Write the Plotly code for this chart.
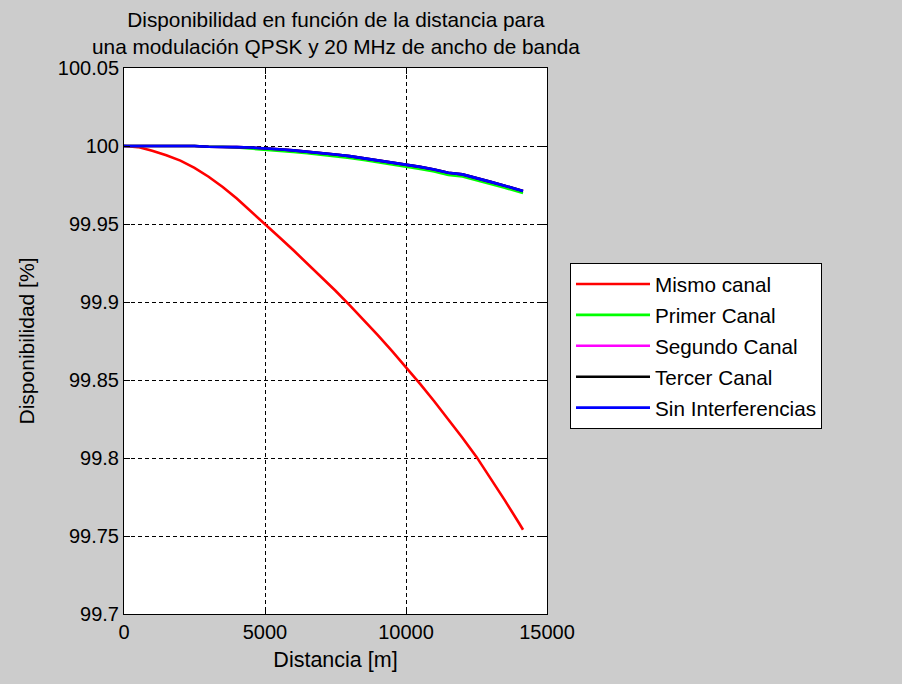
import plotly.graph_objects as go

# Distance (m)
distancia = [0, 500, 1000, 1500, 2000, 2500, 3000, 3500, 4000, 4500, 5000,
             5500, 6000, 6500, 7000, 7500, 8000, 8500, 9000, 9500, 10000,
             10500, 11000, 11500, 12000, 12500, 13000, 13500, 14000, 14150]

mismo_canal = [100.000, 99.9993, 99.9970, 99.9941, 99.9906, 99.9860, 99.9803, 99.9737,
               99.9663, 99.9583, 99.9500, 99.9417, 99.9333, 99.9248, 99.9161, 99.9072,
               99.8980, 99.8885, 99.8787, 99.8686, 99.8582, 99.8475, 99.8364, 99.8249,
               99.8130, 99.8007, 99.7870, 99.7730, 99.7585, 99.7540]

sin_interferencias = [100.0, 100.0, 100.0, 100.0, 100.0, 100.0, 99.9995, 99.9995,
                      99.9993, 99.9990, 99.9986, 99.9979, 99.9972, 99.9964, 99.9955,
                      99.9946, 99.9935, 99.9922, 99.9908, 99.9896, 99.9883, 99.9866,
                      99.9850, 99.9828, 99.9818, 99.9796, 99.9770, 99.9745, 99.9720,
                      99.9712]

primer_canal = [100.0, 100.0, 100.0, 100.0, 100.0, 100.0, 99.9995, 99.9995,
                99.9990, 99.9984, 99.9978, 99.9969, 99.9962, 99.9954, 99.9945,
                99.9935, 99.9923, 99.9910, 99.9896, 99.9884, 99.9870, 99.9853,
                99.9837, 99.9815, 99.9805, 99.9783, 99.9757, 99.9732, 99.9707,
                99.9699]

segundo_canal = [100.0, 100.0, 100.0, 100.0, 100.0, 100.0, 99.9995, 99.9995,
                 99.9993, 99.9990, 99.9986, 99.9979, 99.9972, 99.9964, 99.9955,
                 99.9946, 99.9935, 99.9922, 99.9908, 99.9896, 99.9883, 99.9866,
                 99.9850, 99.9828, 99.9818, 99.9796, 99.9770, 99.9745, 99.9720,
                 99.9712]

tercer_canal = [100.0, 100.0, 100.0, 100.0, 100.0, 100.0, 99.9995, 99.9995,
                99.9993, 99.9990, 99.9986, 99.9979, 99.9972, 99.9964, 99.9955,
                99.9946, 99.9935, 99.9922, 99.9908, 99.9896, 99.9883, 99.9866,
                99.9850, 99.9828, 99.9818, 99.9796, 99.9770, 99.9745, 99.9720,
                99.9712]

series_names = ["Mismo canal", "Primer Canal", "Segundo Canal", "Tercer Canal", "Sin Interferencias"]
series_values = [mismo_canal, primer_canal, segundo_canal, tercer_canal, sin_interferencias]
series_colors = ["#ff0000", "#00ff00", "#ff00ff", "#000000", "#0000ff"]

x_tickvals = [0, 5000, 10000, 15000]
x_ticktext = ["0", "5000", "10000", "15000"]
y_tickvals = [99.7, 99.75, 99.8, 99.85, 99.9, 99.95, 100.0, 100.05]
y_ticktext = ["99.7", "99.75", "99.8", "99.85", "99.9", "99.95", "100", "100.05"]

title_text = "Disponibilidad en función de la distancia para<br>una modulación QPSK y 20 MHz de ancho de banda"

FONT = "Liberation Sans, Arial, sans-serif"
BG = "#cccccc"
TXT = "#000000"

fig = go.Figure()
for i, (name, vals, col) in enumerate(zip(series_names, series_values, series_colors)):
    fig.add_trace(go.Scatter(x=distancia, y=vals, mode="lines", name=name,
                             legendgroup=f"g{i}",
                             line=dict(color=col, width=2.6)))

axis_common = dict(
    showline=True, linecolor="#000000", linewidth=1, mirror="ticks",
    ticks="inside", ticklen=6, tickcolor="#000000",
    showgrid=True, gridcolor="#000000", gridwidth=1, griddash="4px,3px",
    zeroline=False,
    tickfont=dict(family=FONT, size=20, color=TXT),
)

fig.update_layout(
    width=902, height=684,
    margin=dict(l=124, r=355, t=68, b=70),
    paper_bgcolor=BG, plot_bgcolor="#ffffff",
    font=dict(family=FONT, size=20, color=TXT),
    xaxis=dict(range=[0, 15000], tickvals=x_tickvals, ticktext=x_ticktext,
               title=dict(text="Distancia [m]", standoff=9,
                          font=dict(family=FONT, size=21.5, color=TXT)),
               **axis_common),
    yaxis=dict(range=[99.7, 100.05], tickvals=y_tickvals, ticktext=y_ticktext,
               title=dict(text="Disponibilidad [%]", standoff=17,
                          font=dict(family=FONT, size=21, color=TXT)),
               **axis_common),
    legend=dict(x=(570 - 124) / 423, y=(614 - 263) / 546, xanchor="left", yanchor="top",
                xref="paper", yref="paper",
                bgcolor="#ffffff", bordercolor="#000000", borderwidth=1,
                font=dict(family=FONT, size=20.7, color=TXT),
                tracegroupgap=1, itemwidth=74),
    showlegend=True,
    annotations=[dict(text=title_text, xref="paper", yref="paper",
                      x=0.5, y=(614 - 6) / 546, xanchor="center", yanchor="top",
                      showarrow=False, align="center",
                      font=dict(family=FONT, size=20.8, color=TXT))],
)

fig.write_html("out.html")
